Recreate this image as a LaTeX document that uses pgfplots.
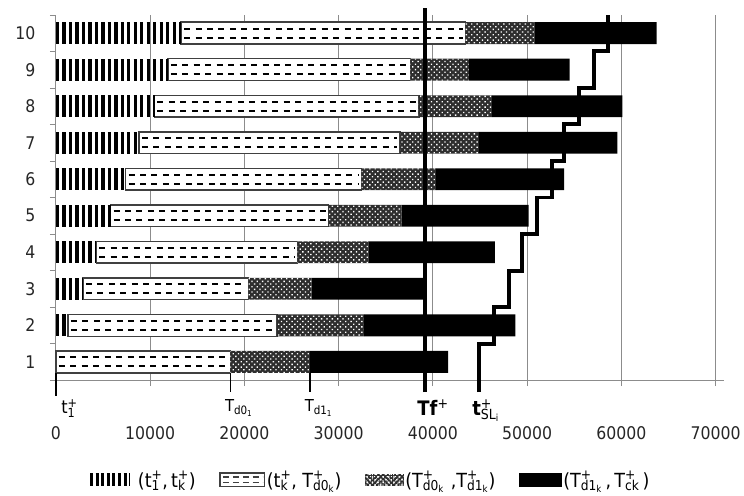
\documentclass[border=0pt]{standalone}
\usepackage{fontspec}
\setmainfont{DejaVu Sans Condensed}
\usepackage{pgfplots}
\pgfplotsset{compat=1.18}
\usepackage{pgfplotstable}
\usetikzlibrary{patterns.meta}

\newcommand{\supsub}[2]{%
  \setbox0=\hbox{\textsuperscript{#2}}\setbox2=\hbox{\textsubscript{#1}}%
  \ifdim\wd0>\wd2 \rlap{\box2}\box0 \else \rlap{\box0}\box2 \fi}

% row: end of (t1,tk), end of (tk,Td0k), end of (Td0k,Td1k), end of (Td1k,Tck)
\pgfplotstableread{
row a b c d
1 0 18520 26950 41620
2 1300 23460 32700 48750
3 2890 20460 27120 39050
4 4300 25640 33150 46560
5 5820 28920 36680 50160
6 7410 32450 40350 53930
7 8820 36510 44870 59580
8 10480 38520 46280 60100
9 11890 37640 43810 54500
10 13300 43460 50760 63740
}\bars

\pgfplotstableread{
x y
44920 0.17
44920 1.5
46450 1.5
46450 2.5
48040 2.5
48040 3.5
49450 3.5
49450 4.5
51040 4.5
51040 5.5
52630 5.5
52630 6.5
53930 6.5
53930 7.5
55450 7.5
55450 8.5
57040 8.5
57040 9.5
58550 9.5
58550 10.5
}\stair

\begin{document}
\begin{tikzpicture}
\begin{axis}[
  scale only axis, width=670pt, height=366pt,
  xmin=0, xmax=70900, ymin=0.5, ymax=10.5,
  xbar stacked, reverse stacked plots=false, bar width=22pt,
  axis lines*=left,
  axis line style={black!45, line width=1pt},
  xtick={0,10000,...,70000},
  xmajorgrids, grid style={black!45, line width=0.9pt},
  ytick={1,...,10},
  minor ytick={0.5,1.5,...,10.5},
  major y tick style={draw=none},
  minor y tick style={black!45, line width=0.9pt},
  major x tick style={black!45, line width=0.9pt},
  tick align=outside, major tick length=6pt, minor tick length=6pt,
  tick label style={font=\fontsize{17.5}{20}\selectfont, text=black!85},
  /pgf/number format/assume math mode=true,
  /pgf/number format/1000 sep={},
  scaled x ticks=false,
  xticklabel style={yshift=-37pt},
  yticklabel style={xshift=-11pt},
  clip=false,
  legend columns=4,
  legend style={draw=none, fill=none, at={(axis description cs:0.466,0)}, anchor=center, yshift=-100pt,
    font=\fontsize{19.5}{21}\selectfont, nodes={inner sep=1.5pt},
    /tikz/every even column/.append style={column sep=22pt}},
]
% (t1,tk): invisible bar for stacking, stripes drawn below
\addplot[draw=none, fill=none,
  legend image code/.code={\draw[line width=13pt, dash pattern=on 3pt off 2.6pt] (0pt,0pt) -- (40pt,0pt);}]
  table[x=a, y=row]{\bars};
\addlegendentry{(t\supsub{1}{+},\,t\supsub{k}{+})}
\addplot[fill=white, draw=black!75, line width=1.5pt,
  legend image code/.code={\draw[black!75, line width=1.4pt, fill=white] (0pt,-7pt) rectangle (45pt,7pt);
    \draw[line width=1.6pt, dash pattern=on 6pt off 4pt] (3pt,2.8pt) -- (43pt,2.8pt) (3pt,-2.8pt) -- (43pt,-2.8pt);}]
  table[x expr=\thisrow{b}-\thisrow{a}, y=row]{\bars};
\addlegendentry{(t\supsub{k}{+}, T\supsub{d0\textsubscript{k}}{+})}
\addplot[fill=black!82, draw=none, postaction={pattern={Dots[distance=3.8pt,radius=0.95pt,angle=45]}, pattern color=white},
  legend image code/.code={\fill[black!82] (0pt,-6pt) rectangle (39pt,6pt);
    \fill[pattern={Dots[distance=3pt,radius=0.75pt,angle=45]}, pattern color=white] (0pt,-6pt) rectangle (39pt,6pt);}]
  table[x expr=\thisrow{c}-\thisrow{b}, y=row]{\bars};
\addlegendentry{(T\supsub{d0\textsubscript{k}}{+}\,\,,T\supsub{d1\textsubscript{k}}{+})}
\addplot[fill=black, draw=none,
  legend image code/.code={\fill[black] (0pt,-7pt) rectangle (43pt,7pt);}]
  table[x expr=\thisrow{d}-\thisrow{c}, y=row]{\bars};
\addlegendentry{(T\supsub{d1\textsubscript{k}}{+}\,,\,T\supsub{ck}{+}\,)}

% stripes of (t1,tk)
\addplot[stack plots=false, sharp plot, forget plot, unbounded coords=jump, black,
  line width=22pt, line cap=butt, dash pattern=on 3.3pt off 3.2pt] coordinates {
  (0,2) (1300,2) (nan,nan)
  (0,3) (2890,3) (nan,nan)
  (0,4) (4300,4) (nan,nan)
  (0,5) (5820,5) (nan,nan)
  (0,6) (7410,6) (nan,nan)
  (0,7) (8820,7) (nan,nan)
  (0,8) (10480,8) (nan,nan)
  (0,9) (11890,9) (nan,nan)
  (0,10) (13300,10)};
% dashes inside (tk, Td0k) boxes
\addplot[stack plots=false, sharp plot, forget plot, unbounded coords=jump, black,
  line width=1.9pt, dash pattern=on 6pt off 5.5pt] coordinates {
  (300,1.12) (18220,1.12) (nan,nan)
  (1600,2.12) (23160,2.12) (nan,nan)
  (3190,3.12) (20160,3.12) (nan,nan)
  (4600,4.12) (25340,4.12) (nan,nan)
  (6120,5.12) (28620,5.12) (nan,nan)
  (7710,6.12) (32150,6.12) (nan,nan)
  (9120,7.12) (36210,7.12) (nan,nan)
  (10780,8.12) (38220,8.12) (nan,nan)
  (12190,9.12) (37340,9.12) (nan,nan)
  (13600,10.12) (43160,10.12)};
\addplot[stack plots=false, sharp plot, forget plot, unbounded coords=jump, black,
  line width=1.9pt, dash pattern=on 6pt off 5.5pt] coordinates {
  (300,0.88) (18220,0.88) (nan,nan)
  (1600,1.88) (23160,1.88) (nan,nan)
  (3190,2.88) (20160,2.88) (nan,nan)
  (4600,3.88) (25340,3.88) (nan,nan)
  (6120,4.88) (28620,4.88) (nan,nan)
  (7710,5.88) (32150,5.88) (nan,nan)
  (9120,6.88) (36210,6.88) (nan,nan)
  (10780,7.88) (38220,7.88) (nan,nan)
  (12190,8.88) (37340,8.88) (nan,nan)
  (13600,9.88) (43160,9.88)};

% marker lines below axis
\addplot[stack plots=false, sharp plot, forget plot, black, line width=1.6pt] coordinates {(0,0.7) (0,0.06)};
\addplot[stack plots=false, sharp plot, forget plot, black, line width=1.4pt] coordinates {(18520,0.7) (18520,0.17)};
\addplot[stack plots=false, sharp plot, forget plot, black, line width=1.4pt] coordinates {(26950,0.7) (26950,0.17)};
% Tf line
\addplot[stack plots=false, sharp plot, forget plot, black, line width=4pt] coordinates {(39150,0.17) (39150,10.69)};
% t_SL staircase
\addplot[stack plots=false, sharp plot, forget plot, black, line width=4pt] table[x=x, y=y]{\stair};

\node[anchor=base west, font=\fontsize{18}{20}\selectfont] at (axis cs:210,-0.43) {t\supsub{1}{+}};
\node[anchor=base west, font=\fontsize{16.5}{20}\selectfont] at (axis cs:17570,-0.37) {T\textsubscript{d0\textsubscript{1}}};
\node[anchor=base west, font=\fontsize{16.5}{20}\selectfont] at (axis cs:26030,-0.37) {T\textsubscript{d1\textsubscript{1}}};
\node[anchor=base west, font=\fontsize{20}{22}\selectfont] at (axis cs:37990,-0.48) {\textbf{Tf}\textsuperscript{+}};
\node[anchor=base west, font=\fontsize{20}{22}\selectfont] at (axis cs:43810,-0.48) {\textbf{t}\supsub{SL\textsubscript{i}}{+}};
\end{axis}
\path ([xshift=-56pt,yshift=-116pt]current axis.south west) rectangle ([xshift=18pt,yshift=15pt]current axis.north east);
\end{tikzpicture}
\end{document}
